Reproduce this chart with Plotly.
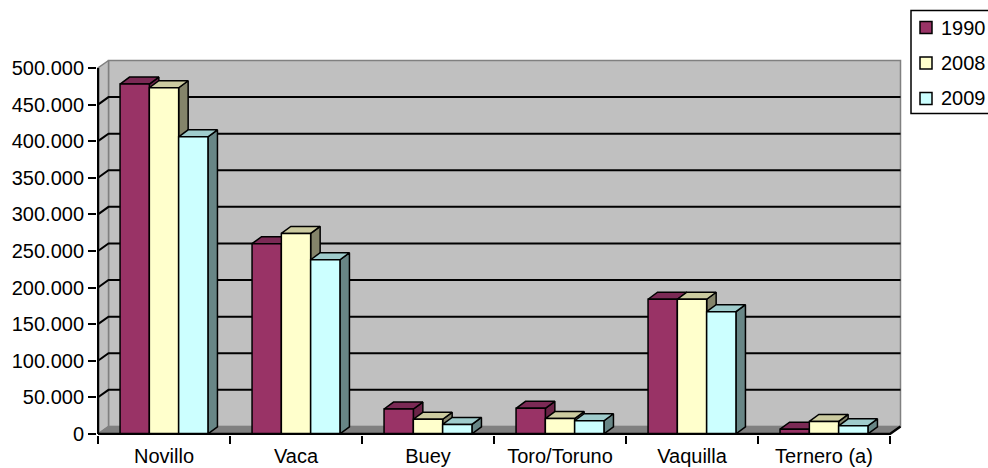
import plotly.graph_objects as go

# ---------------- data ----------------
CATEGORIES = ["Novillo", "Vaca", "Buey", "Toro/Toruno", "Vaquilla", "Ternero (a)"]
SERIES = ["1990", "2008", "2009"]
V1990 = [478000, 260000, 34000, 35000, 184000, 6500]
V2008 = [473000, 274000, 20000, 21000, 184000, 17000]
V2009 = [406000, 238000, 13000, 18000, 167000, 11000]
Y_TICKS = [0, 50000, 100000, 150000, 200000, 250000, 300000, 350000, 400000, 450000, 500000]
VALUES = [V1990, V2008, V2009]

# ---------------- styles / geometry ----------------
FRONT = ["#993366", "#FFFFCC", "#CCFFFF"]
TOP = ["#7B2A55", "#CCCBA0", "#9FCCCC"]
SIDE = ["#6B2447", "#84846A", "#688686"]
WALL = "#C0C0C0"
FLOOR = "#808080"
EDGE = "#808080"
FONT = "Arial, Liberation Sans, sans-serif"
FS = 20

W, H = 988, 468
CW = 132.0                 # px per category
PLOT_L = 97.0
WALL_DXP, WALL_DYP = 10.5, 7.5
BAR_DXP, BAR_DYP = 9.5, 7.0
Y0PX, YTOPPX = 434.0, 67.5
YMAX = 500000
PPV = (Y0PX - YTOPPX) / YMAX

X0 = -0.5 - 1.0 / CW
X1 = 5.5 + (WALL_DXP + 1.5) / CW
PLOT_R = PLOT_L + (X1 - X0) * CW
Y_LO = -1.1 / PPV
Y_HI = YMAX + (WALL_DYP + 1.5) / PPV
PLOT_T = YTOPPX - WALL_DYP - 1.5
PLOT_B = Y0PX + 1.1

WDX, WDY = WALL_DXP / CW, WALL_DYP / PPV
BDX, BDY = BAR_DXP / CW, BAR_DYP / PPV
BAR_W = 29.3 / CW
N = len(CATEGORIES)

fig = go.Figure()


def poly(xs, ys, fill, line="black", lw=1.5):
    fig.add_trace(go.Scatter(
        x=xs + [xs[0]], y=ys + [ys[0]], mode="lines", fill="toself",
        fillcolor=fill, line=dict(color=line, width=lw),
        hoverinfo="skip", showlegend=False))


# back wall
poly([-0.5 + WDX, 5.5 + WDX, 5.5 + WDX, -0.5 + WDX],
     [WDY, WDY, YMAX + WDY, YMAX + WDY], WALL, EDGE, 1.5)
# left wall
poly([-0.5, -0.5 + WDX, -0.5 + WDX, -0.5],
     [0, WDY, YMAX + WDY, YMAX], WALL, EDGE, 1.5)
# floor
poly([-0.5, 5.5, 5.5 + WDX, -0.5 + WDX], [0, 0, WDY, WDY], FLOOR, FLOOR, 1)

# gridlines on walls
gx, gy = [], []
for v in Y_TICKS[1:-1]:
    gx += [-0.5, -0.5 + WDX, 5.5 + WDX, None]
    gy += [v, v + WDY, v + WDY, None]
fig.add_trace(go.Scatter(x=gx, y=gy, mode="lines", line=dict(color="black", width=2),
                         hoverinfo="skip", showlegend=False))

# bars
for c in range(N):
    for s in range(len(SERIES)):
        v = VALUES[s][c]
        xa = c - 1.5 * BAR_W + s * BAR_W
        xb = xa + BAR_W
        poly([xb, xb + BDX, xb + BDX, xb], [0, BDY, v + BDY, v], SIDE[s])
        poly([xa, xb, xb + BDX, xa + BDX], [v, v, v + BDY, v + BDY], TOP[s])
        poly([xa, xb, xb, xa], [0, 0, v, v], FRONT[s])

# front axis lines
fig.add_trace(go.Scatter(x=[-0.5, -0.5, None, -0.5, 5.5, 5.5 + WDX],
                         y=[YMAX, 0, None, 0, 0, WDY], mode="lines",
                         line=dict(color="black", width=2.5),
                         hoverinfo="skip", showlegend=False))
# invisible trace on tick axis
fig.add_trace(go.Scatter(x=[0], y=[0], xaxis="x2", mode="markers",
                         marker=dict(opacity=0), hoverinfo="skip", showlegend=False))


# custom legend (paper coords)
def xp(px):
    return (px - PLOT_L) / (PLOT_R - PLOT_L)


def yp(py):
    return (PLOT_B - py) / (PLOT_B - PLOT_T)


shapes = [dict(type="rect", xref="paper", yref="paper", x0=xp(911), x1=xp(1010),
               y0=yp(113), y1=yp(10), line=dict(color="black", width=1.5),
               fillcolor="white", layer="above")]
annotations = []
for i, name in enumerate(SERIES):
    cy = 27 + 35.5 * i
    shapes.append(dict(type="rect", xref="paper", yref="paper", x0=xp(920), x1=xp(932),
                       y0=yp(cy + 6), y1=yp(cy - 6), line=dict(color="black", width=1.5),
                       fillcolor=FRONT[i], layer="above"))
    annotations.append(dict(xref="paper", yref="paper", x=xp(939), y=yp(cy), text=name,
                            showarrow=False, xanchor="left", yanchor="middle",
                            font=dict(family=FONT, size=FS, color="black")))

fig.update_layout(
    width=W, height=H,
    margin=dict(l=PLOT_L, r=W - PLOT_R, t=PLOT_T, b=H - PLOT_B, pad=0, autoexpand=False),
    paper_bgcolor="white", plot_bgcolor="white",
    separators=",.",
    showlegend=False,
    hovermode=False,
    font=dict(family=FONT, size=FS, color="black"),
    xaxis=dict(range=[X0, X1], tickmode="array", tickvals=list(range(N)),
               ticktext=CATEGORIES, ticks="outside", ticklen=3,
               tickcolor="rgba(0,0,0,0)", showgrid=False, zeroline=False,
               showline=False, tickfont=dict(family=FONT, size=FS)),
    xaxis2=dict(range=[X0, X1], overlaying="x", anchor="y", side="bottom",
                tickmode="array", tickvals=[i - 0.5 for i in range(N + 1)],
                ticks="outside", ticklen=8, tickwidth=2, tickcolor="black",
                showticklabels=False, showgrid=False, zeroline=False, showline=False),
    yaxis=dict(range=[Y_LO, Y_HI], tickmode="array", tickvals=Y_TICKS,
               tickformat=",.0f", ticks="outside", ticklen=8, tickwidth=2,
               tickcolor="black", showgrid=False, zeroline=False, showline=False,
               tickfont=dict(family=FONT, size=FS)),
    shapes=shapes, annotations=annotations,
)

fig.write_html("out.html",
               config={"displayModeBar": False, "staticPlot": True},
               post_script="document.body.style.margin='0';document.body.style.padding='0';"
                           "document.body.style.overflow='hidden';")
